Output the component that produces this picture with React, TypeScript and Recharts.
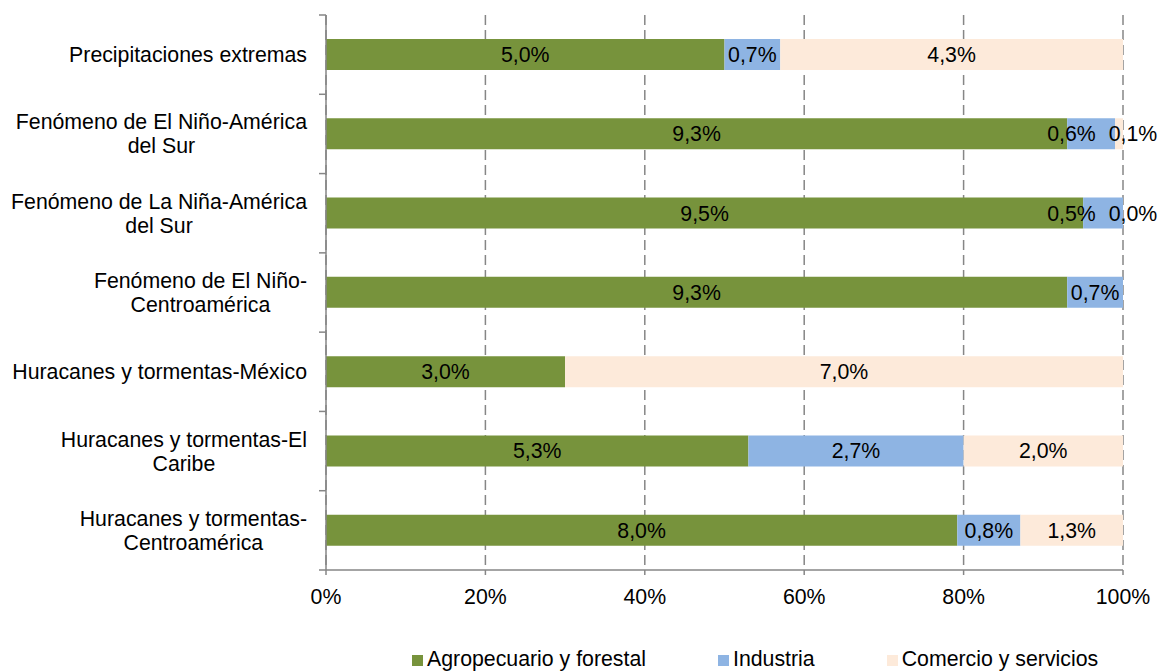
import { Bar, BarChart, CartesianGrid, LabelList, XAxis, YAxis } from "recharts";

const categories = [
  "Precipitaciones extremas",
  "Fenómeno de El Niño-América\ndel Sur",
  "Fenómeno de La Niña-América\ndel Sur",
  "Fenómeno de El Niño-\nCentroamérica",
  "Huracanes y tormentas-México",
  "Huracanes y tormentas-El\nCaribe",
  "Huracanes y tormentas-\nCentroamérica",
];
// null = no segment / no label shown in the original
const agropecuario = [5.0, 9.3, 9.5, 9.3, 3.0, 5.3, 8.0];
const industria = [0.7, 0.6, 0.5, 0.7, null, 2.7, 0.8];
const comercio = [4.3, 0.1, 0.0, null, 7.0, 2.0, 1.3];
const xTicks = [0, 0.2, 0.4, 0.6, 0.8, 1];

const series = [
  { key: "agro", name: "Agropecuario y forestal", color: "#77933C", values: agropecuario },
  { key: "ind", name: "Industria", color: "#8EB4E3", values: industria },
  { key: "com", name: "Comercio y servicios", color: "#FDEADA", values: comercio },
];

const W = 1159;
const H = 671;
const MARGIN = { top: 15, right: 36, left: 0, bottom: 0 };
const X_AXIS_H = 101;
const Y_AXIS_W = 326;
const PLOT_W = W - Y_AXIS_W - MARGIN.right;
const BAND = (H - MARGIN.top - X_AXIS_H) / categories.length;
const FONT = "'Liberation Sans', Arial, sans-serif";
const FS = 21.3;
const AXIS = "#868686";
const TINY = 10; // px; segments narrower than this get their label outside

const rows = categories.map((name, i) => {
  const row: any = { name };
  series.forEach((s) => {
    row[s.key] = s.values[i] ?? 0;
    row[s.key + "Lbl"] = s.values[i];
  });
  return row;
});

let ctx: CanvasRenderingContext2D | null = null;
function measure(text: string) {
  if (!ctx) {
    ctx = document.createElement("canvas").getContext("2d");
    if (ctx) ctx.font = `${FS}px ${FONT}`;
  }
  return ctx ? ctx.measureText(text).width : text.length * 10;
}

const fmt = (v: number) => v.toFixed(1).replace(".", ",") + "%";

function CategoryTick(props: any) {
  const { x, y, payload, index } = props;
  const lines = String(payload.value).split("\n");
  const widest = Math.max(...lines.map(measure));
  const cx = x - widest / 2;
  const axisX = x + 19;
  const lineH = 24;
  const y0 = y - ((lines.length - 1) * lineH) / 2;
  return (
    <g>
      <line x1={axisX - 7} x2={axisX} y1={y - BAND / 2} y2={y - BAND / 2} stroke={AXIS} strokeWidth={1.5} />
      {index === categories.length - 1 && (
        <line x1={axisX - 7} x2={axisX} y1={y + BAND / 2} y2={y + BAND / 2} stroke={AXIS} strokeWidth={1.5} />
      )}
      <text textAnchor="middle" fontSize={FS} fontFamily={FONT} fill="#000">
        {lines.map((l, i) => (
          <tspan key={i} x={cx} y={y0 + i * lineH} dy="0.35em">
            {l}
          </tspan>
        ))}
      </text>
    </g>
  );
}

const Txt = ({ x, y, children }: any) => (
  <text x={x} y={y} dy="0.35em" textAnchor="middle" fontSize={FS} fontFamily={FONT} fill="#000">
    {children}
  </text>
);

// labels centred in segments; a tiny trailing segment gets its label outside the bar (drawn by the
// previous segment's renderer, since zero-width bars get no label), and the previous label moves left
const makeLabel = (si: number) => (p: any) => {
  const { x, y, width, height, value, index } = p;
  if (value == null) return null;
  if (width < TINY && si > 0 && series[si - 1].values[index] != null) return null;
  const text = fmt(value);
  const half = measure(text) / 2;
  const cy = y + height / 2;
  let cx = x + width / 2;
  let extra = null;
  if (width < TINY) {
    cx = x + width + 10;
  } else if (si < series.length - 1) {
    const next = series[si + 1].values[index];
    if (next != null) {
      const total = series.reduce((a, s) => a + (s.values[index] ?? 0), 0);
      const nextW = (next / total) * PLOT_W;
      if (nextW < TINY) {
        const nextCx = x + width + nextW + 10;
        const nextText = fmt(next);
        cx = Math.min(cx, nextCx - measure(nextText) / 2 - 13 - half);
        extra = <Txt x={nextCx} y={cy}>{nextText}</Txt>;
      }
    }
  }
  return (
    <g>
      <Txt x={cx} y={cy}>{text}</Txt>
      {extra}
    </g>
  );
};

export default function App() {
  return (
    <div style={{ position: "relative", width: W, height: H, overflow: "hidden", background: "#fff" }}>
      <style>{`body{margin:0}`}</style>
      <BarChart
        width={W}
        height={H}
        data={rows}
        layout="vertical"
        stackOffset="expand"
        margin={MARGIN}
        barSize={31}
      >
        <CartesianGrid horizontal={false} stroke={AXIS} strokeWidth={1.5} strokeDasharray="10 5" />
        <XAxis
          type="number"
          domain={[0, 1]}
          ticks={xTicks}
          tickFormatter={(v: number) => `${Math.round(v * 100)}%`}
          height={X_AXIS_H}
          axisLine={{ stroke: AXIS, strokeWidth: 1.5 }}
          tickLine={{ stroke: AXIS, strokeWidth: 1.5 }}
          tickSize={5}
          tickMargin={14}
          tick={{ fontSize: FS, fill: "#000", fontFamily: FONT }}
        />
        <YAxis
          type="category"
          dataKey="name"
          width={Y_AXIS_W}
          interval={0}
          axisLine={{ stroke: AXIS, strokeWidth: 1.5 }}
          tickLine={false}
          tickSize={0}
          tickMargin={19}
          tick={<CategoryTick />}
        />
        {series.map((s, si) => (
          <Bar key={s.key} dataKey={s.key} name={s.name} stackId="a" fill={s.color} isAnimationActive={false}>
            <LabelList dataKey={s.key + "Lbl"} content={makeLabel(si)} />
          </Bar>
        ))}
      </BarChart>
      <div
        style={{
          position: "absolute",
          left: 412,
          top: 649,
          display: "flex",
          gap: 72,
          fontFamily: FONT,
          fontSize: FS,
          lineHeight: "21px",
          color: "#000",
          whiteSpace: "nowrap",
        }}
      >
        {series.map((s) => (
          <span key={s.key}>
            <span style={{ display: "inline-block", width: 11, height: 11, background: s.color, marginRight: 4 }} />
            {s.name}
          </span>
        ))}
      </div>
    </div>
  );
}
